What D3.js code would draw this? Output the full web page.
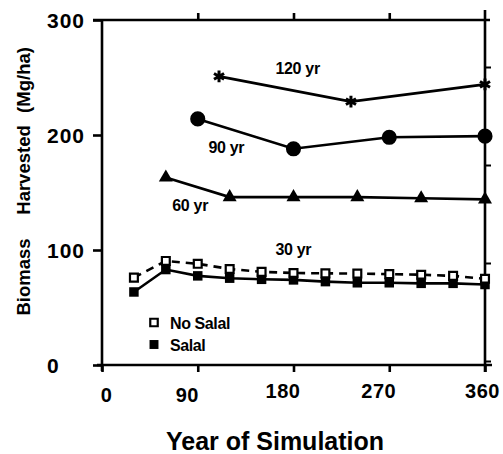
<!DOCTYPE html>
<html>
<head>
<meta charset="utf-8">
<script src="https://cdn.jsdelivr.net/npm/d3@7"></script>
<style>
  html, body { margin: 0; padding: 0; background: #fff; }
  svg { display: block; }
  text { font-family: "Liberation Sans", Arial, Helvetica, sans-serif; font-weight: bold; fill: #000; }
</style>
</head>
<body>
<svg id="chart" width="503" height="454"></svg>
<script>
// Biomass harvested per rotation length (Mg/ha) over a 360-year simulation
const xTicks = [0, 90, 180, 270, 360];
const yTicks = [0, 100, 200, 300];
const topTicks = [90, 180, 270];
const rightTicks = [0, 100, 200, 300];

const years120 = [110, 234, 360];
const biomass120 = [251, 229, 244];

const years90 = [90, 180, 270, 360];
const biomass90 = [214, 188, 198, 199];

const years60 = [60, 120, 180, 240, 300, 360];
const biomass60 = [163, 146, 146, 146, 145, 144];

const years30 = [30, 60, 90, 120, 150, 180, 210, 240, 270, 300, 330, 360];
const noSalal30 = [76, 90.5, 88, 83.5, 81, 80, 79.7, 79.5, 79, 78.5, 77.5, 75];
const salal30 = [63.5, 83, 77.5, 75.5, 74.5, 74, 72.5, 71.5, 71.5, 71, 71, 70];

const seriesLabels = [
  { text: "120 yr", year: 163, value: 253 },
  { text: "90 yr", year: 100, value: 184 },
  { text: "60 yr", year: 66, value: 134 },
  { text: "30 yr", year: 163, value: 95.5 }
];

const legendItems = ["No Salal", "Salal"];
const yTitleWords = ["Biomass", "Harvested", "(Mg/ha)"];

const svg = d3.select("#chart");

const x = d3.scaleLinear().domain([0, 360]).range([102, 485]);
const y = d3.scaleLinear().domain([0, 300]).range([365, 20]);
// right-hand frame carries its own tick spacing
const yRight = d3.scaleLinear().domain([0, 350]).range([361, 18]);

const axisStroke = 2.6;

// frame lines
const frame = svg.append("g").attr("stroke", "#000").attr("stroke-width", axisStroke).attr("fill", "none");
frame.append("line").attr("x1", x(0) - 9).attr("x2", x(360) + 5).attr("y1", y(300)).attr("y2", y(300));
frame.append("line").attr("x1", x(360)).attr("x2", x(360)).attr("y1", y(300) - 10).attr("y2", y(0) + 7);

// bottom axis
const gx = svg.append("g").attr("transform", `translate(0,${y(0)})`)
  .call(d3.axisBottom(x).tickValues(xTicks).tickSizeInner(7).tickSizeOuter(0).tickPadding(14));
gx.select(".domain").attr("d", `M${x(0) - 5},0H${x(360) + 7}`);
gx.selectAll("line").attr("stroke-width", axisStroke);
gx.select(".domain").attr("stroke-width", axisStroke);
gx.selectAll("text")
  .attr("font-size", 20)
  .attr("dx", d => d === 0 ? 4 : d === 360 ? -3 : -11)
  .attr("dy", d => d >= 180 ? "0.62em" : "0.78em")
  .attr("letter-spacing", 0.5);

// left axis
const gy = svg.append("g").attr("transform", `translate(${x(0)},0)`)
  .call(d3.axisLeft(y).tickValues(yTicks).tickSizeInner(9).tickSizeOuter(0).tickPadding(0));
gy.select(".domain").attr("d", `M0,${y(300)}V${y(0) + 6}`).attr("stroke-width", axisStroke);
gy.selectAll("line").attr("stroke-width", axisStroke);
gy.selectAll("text")
  .attr("x", -55)
  .attr("text-anchor", "start")
  .attr("dy", "0.34em")
  .attr("font-size", 21)
  .attr("letter-spacing", 1);

// top ticks
const gt = svg.append("g").attr("transform", `translate(0,${y(300)})`)
  .call(d3.axisTop(x).tickValues(topTicks).tickSizeInner(7).tickSizeOuter(0).tickFormat(""));
gt.select(".domain").remove();
gt.selectAll("line").attr("stroke-width", axisStroke);

// right ticks
const gr = svg.append("g").attr("transform", `translate(${x(360)},0)`)
  .call(d3.axisRight(yRight).tickValues(rightTicks).tickSizeInner(6).tickSizeOuter(0).tickFormat(""));
gr.select(".domain").remove();
gr.selectAll("line").attr("stroke-width", 2);

svg.selectAll(".tick text").attr("fill", "#000");
svg.selectAll(".tick line").attr("stroke", "#000");
svg.selectAll(".domain").attr("stroke", "#000");

// series lines
const line = d3.line().x(d => x(d[0])).y(d => y(d[1]));
const zip = (a, b) => a.map((v, i) => [v, b[i]]);

const plot = svg.append("g");
function drawLine(xs, ys, dash) {
  plot.append("path")
    .attr("d", line(zip(xs, ys)))
    .attr("fill", "none")
    .attr("stroke", "#000")
    .attr("stroke-width", 2.6)
    .attr("stroke-dasharray", dash || null);
}
drawLine(years120, biomass120);
drawLine(years90, biomass90);
drawLine(years60, biomass60);
drawLine(years30, salal30);
drawLine(years30, noSalal30, "8,6");

function drawMarkers(xs, ys, type, size, style) {
  const g = plot.append("g");
  g.selectAll("path").data(zip(xs, ys)).join("path")
    .attr("transform", d => `translate(${x(d[0])},${y(d[1])})`)
    .attr("d", d3.symbol().type(type).size(size))
    .each(function () { style(d3.select(this)); });
}
const filled = s => s.attr("fill", "#000").attr("stroke", "none");
drawMarkers(years120, biomass120, d3.symbolAsterisk, 95, s => s.attr("fill", "none").attr("stroke", "#000").attr("stroke-width", 3));
drawMarkers(years90, biomass90, d3.symbolCircle, 180, filled);
drawMarkers(years60, biomass60, d3.symbolTriangle, 85, filled);
drawMarkers(years30, salal30, d3.symbolSquare, 90, filled);
drawMarkers(years30, noSalal30, d3.symbolSquare, 62, s => s.attr("fill", "#fff").attr("stroke", "#000").attr("stroke-width", 2.2));

// series labels
svg.append("g").selectAll("text").data(seriesLabels).join("text")
  .attr("x", d => x(d.year))
  .attr("y", d => y(d.value))
  .attr("font-size", 16)
  .attr("letter-spacing", -0.3)
  .text(d => d.text);

// legend
const legend = svg.append("g").attr("transform", "translate(154,322.5)");
legendItems.forEach((name, i) => {
  const row = legend.append("g").attr("transform", `translate(0,${i * 22})`);
  row.append("path")
    .attr("d", d3.symbol().type(d3.symbolSquare).size(i === 0 ? 56 : 80))
    .attr("fill", i === 0 ? "#fff" : "#000")
    .attr("stroke", i === 0 ? "#000" : "none")
    .attr("stroke-width", 2.2);
  row.append("text")
    .attr("x", 16)
    .attr("y", 6)
    .attr("font-size", 16)
    .attr("letter-spacing", -0.4)
    .text(name);
});

// y-axis title: words set apart with wide gaps
const yTitleCenters = [277, 170, 80];
const yTitle = svg.append("g");
yTitleWords.forEach((w, i) => {
  yTitle.append("text")
    .attr("transform", `translate(30,${yTitleCenters[i]}) rotate(-90)`)
    .attr("text-anchor", "middle")
    .attr("font-size", 18.5)
    .text(w);
});

svg.append("text")
  .attr("x", 275)
  .attr("y", 450)
  .attr("text-anchor", "middle")
  .attr("font-size", 25)
  .text("Year of Simulation");
</script>
</body>
</html>
